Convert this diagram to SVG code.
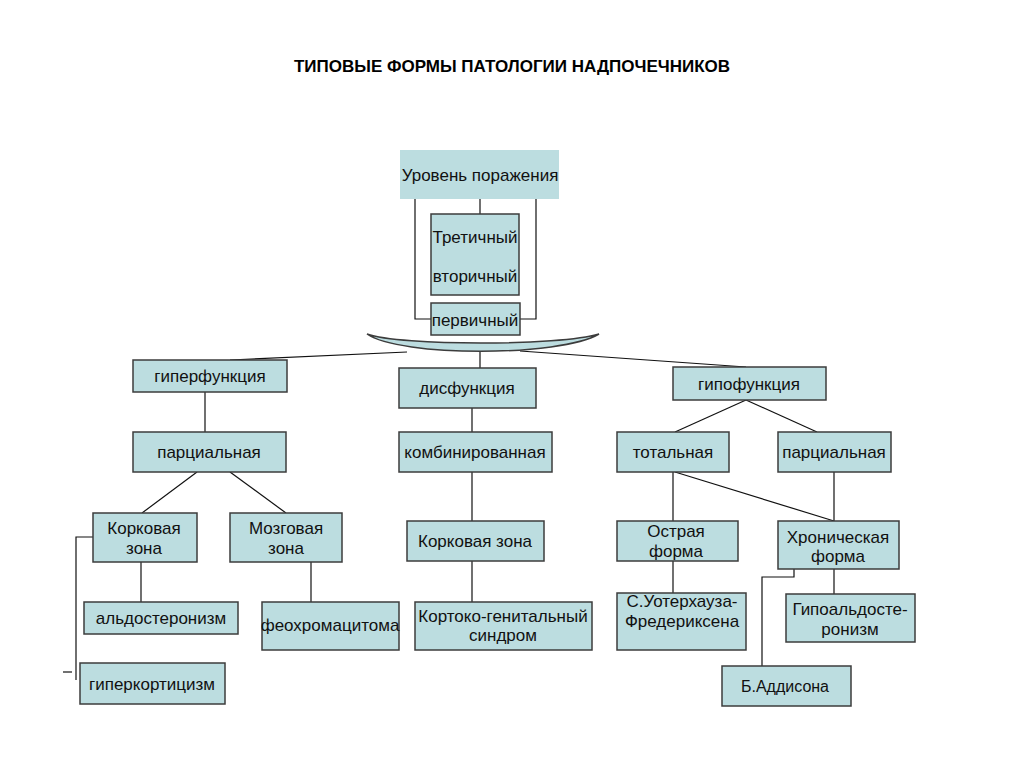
<svg xmlns="http://www.w3.org/2000/svg" width="1024" height="768" viewBox="0 0 1024 768">
<style>
.b{fill:#BCDDE0;stroke:#3c3c3c;stroke-width:1.5}
.t{font-family:"Liberation Sans",Arial,sans-serif;font-size:17px;fill:#111;text-anchor:middle}
.c line,.c polyline,.c path{stroke:#111;stroke-width:1.2;fill:none}
</style>
<rect width="1024" height="768" fill="#fff"/>
<text x="512" y="72" style="font-family:'Liberation Sans',Arial,sans-serif;font-size:17px;font-weight:bold;fill:#000" text-anchor="middle">ТИПОВЫЕ ФОРМЫ ПАТОЛОГИИ НАДПОЧЕЧНИКОВ</text>
<g class="c" id="connectors">
<line x1="480" y1="199" x2="480" y2="214"/>
<polyline points="415,199 415,319 431,319"/>
<polyline points="536,199 536,319 520,319"/>
<line x1="230" y1="360" x2="407" y2="352"/>
<line x1="520" y1="351" x2="746" y2="367"/>
<line x1="480" y1="351" x2="480" y2="368"/>
<line x1="205" y1="392" x2="205" y2="432"/>
<line x1="197" y1="472" x2="142" y2="513"/>
<line x1="230" y1="472" x2="286" y2="513"/>
<line x1="472" y1="408" x2="472" y2="432"/>
<line x1="472" y1="472" x2="472" y2="521"/>
<line x1="472" y1="561" x2="472" y2="602"/>
<line x1="141" y1="562" x2="141" y2="602"/>
<line x1="311" y1="562" x2="311" y2="602"/>
<polyline points="93,537 76,537 76,680"/>
<line x1="63" y1="672" x2="72" y2="672"/>
<line x1="746" y1="400" x2="675" y2="432"/>
<line x1="746" y1="400" x2="817" y2="432"/>
<line x1="673" y1="472" x2="673" y2="521"/>
<line x1="675" y1="472" x2="834" y2="521"/>
<line x1="834" y1="472" x2="834" y2="521"/>
<line x1="673" y1="561" x2="673" y2="593"/>
<line x1="834" y1="569" x2="834" y2="594"/>
<polyline points="794,569 794,577 762,577 762,666"/>
</g>
<g id="bracket"><path class="b" d="M367,334 C400,346 560,346 599,334 C560,357 400,357 367,334 Z"/></g>
<g id="n-level"><rect class="b" x="400" y="150" width="159" height="49" style="stroke:none"/><text class="t" x="480" y="181">Уровень поражения</text></g>
<g id="n-tert"><rect class="b" x="431" y="214" width="88" height="81"/><text class="t" x="475" y="243">Третичный</text><text class="t" x="475" y="282">вторичный</text></g>
<g id="n-prim"><rect class="b" x="431" y="303" width="89" height="32"/><text class="t" x="475" y="326">первичный</text></g>
<g id="n-hyper"><rect class="b" x="133" y="360" width="154" height="32"/><text class="t" x="210" y="382">гиперфункция</text></g>
<g id="n-dys"><rect class="b" x="399" y="368" width="137" height="40"/><text class="t" x="467" y="394">дисфункция</text></g>
<g id="n-hypo"><rect class="b" x="673" y="367" width="153" height="33"/><text class="t" x="749" y="390">гипофункция</text></g>
<g id="n-part1"><rect class="b" x="133" y="432" width="153" height="40"/><text class="t" x="209" y="458">парциальная</text></g>
<g id="n-comb"><rect class="b" x="399" y="432" width="153" height="40"/><text class="t" x="475" y="458">комбинированная</text></g>
<g id="n-total"><rect class="b" x="617" y="432" width="112" height="40"/><text class="t" x="673" y="458">тотальная</text></g>
<g id="n-part2"><rect class="b" x="778" y="432" width="113" height="40"/><text class="t" x="834" y="458">парциальная</text></g>
<g id="n-cortex1"><rect class="b" x="93" y="513" width="104" height="49"/><text class="t" x="144" y="534">Корковая</text><text class="t" x="144" y="554">зона</text></g>
<g id="n-medulla"><rect class="b" x="230" y="513" width="112" height="49"/><text class="t" x="286" y="534">Мозговая</text><text class="t" x="286" y="554">зона</text></g>
<g id="n-cortex2"><rect class="b" x="407" y="521" width="137" height="40"/><text class="t" x="475" y="547">Корковая зона</text></g>
<g id="n-acute"><rect class="b" x="617" y="521" width="121" height="40"/><text class="t" x="676" y="537">Острая</text><text class="t" x="676" y="557">форма</text></g>
<g id="n-chronic"><rect class="b" x="778" y="521" width="121" height="48"/><text class="t" x="838" y="543">Хроническая</text><text class="t" x="838" y="562">форма</text></g>
<g id="n-aldo"><rect class="b" x="84" y="602" width="154" height="32"/><text class="t" x="161" y="624">альдостеронизм</text></g>
<g id="n-pheo"><rect class="b" x="262" y="602" width="137" height="48"/><text class="t" x="330" y="631">феохромацитома</text></g>
<g id="n-cg"><rect class="b" x="415" y="602" width="177" height="48"/><text class="t" x="503" y="622">Кортоко-генитальный</text><text class="t" x="503" y="641">синдром</text></g>
<g id="n-wf"><rect class="b" x="617" y="593" width="129" height="57"/><text class="t" x="682" y="607">С.Уотерхауза-</text><text class="t" x="682" y="627">Фредериксена</text></g>
<g id="n-hypoaldo"><rect class="b" x="786" y="594" width="129" height="48"/><text class="t" x="850" y="615">Гипоальдосте-</text><text class="t" x="850" y="635">ронизм</text></g>
<g id="n-hypercort"><rect class="b" x="80" y="663" width="145" height="41"/><text class="t" x="152" y="690">гиперкортицизм</text></g>
<g id="n-addison"><rect class="b" x="722" y="666" width="129" height="40"/><text class="t" x="785" y="692" style="font-size:16px">Б.Аддисона</text></g>
</svg>
